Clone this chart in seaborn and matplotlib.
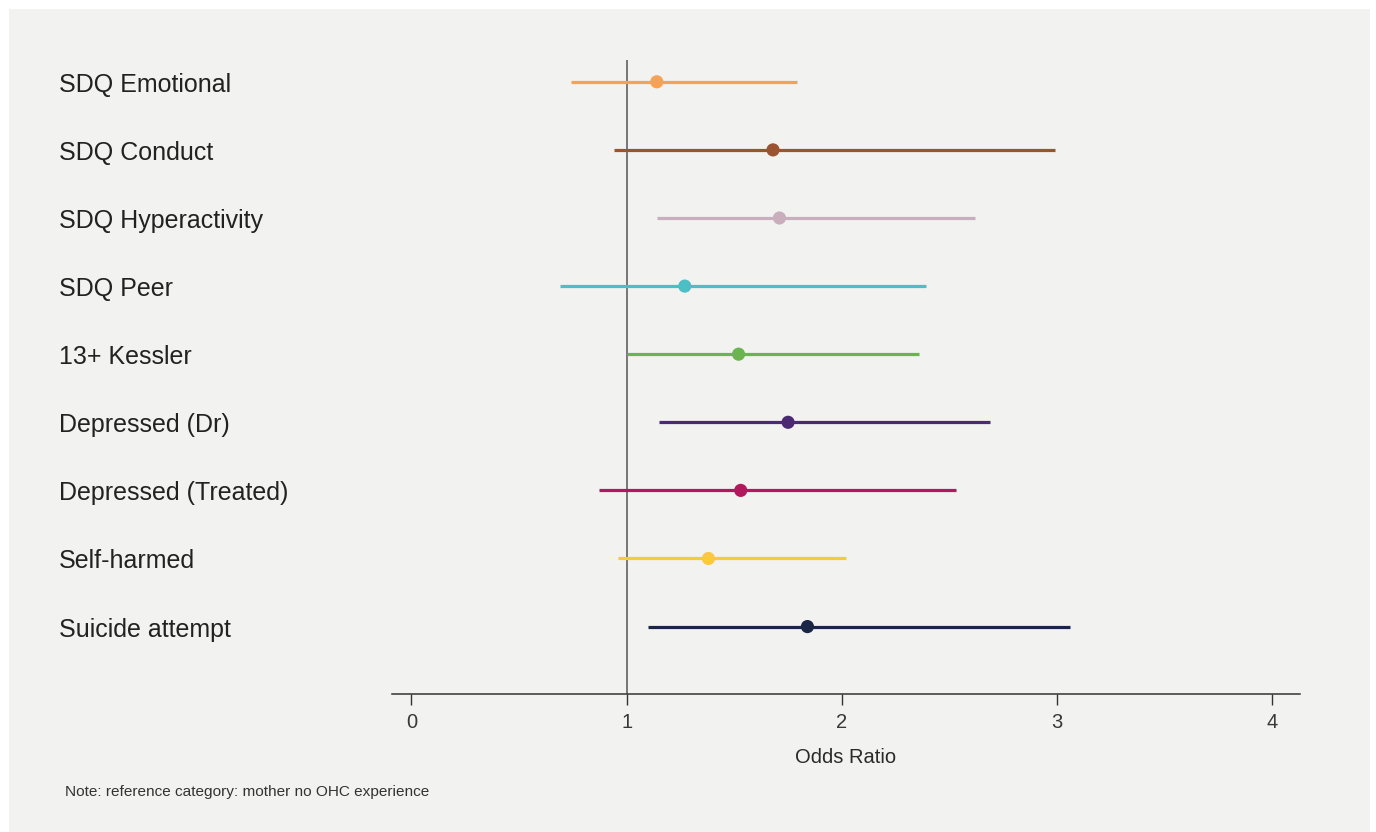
import matplotlib
matplotlib.use("Agg")
import matplotlib.pyplot as plt
import matplotlib.transforms as mtransforms
from matplotlib.patches import Rectangle
import pandas as pd
import seaborn as sns

# Outcomes, odds ratios and 95% confidence bounds
outcomes = ["SDQ Emotional", "SDQ Conduct", "SDQ Hyperactivity", "SDQ Peer",
            "13+ Kessler", "Depressed (Dr)", "Depressed (Treated)",
            "Self-harmed", "Suicide attempt"]
odds_ratio = [1.14, 1.68, 1.71, 1.27, 1.52, 1.75, 1.53, 1.38, 1.84]
ci_lower = [0.74, 0.94, 1.14, 0.69, 1.00, 1.15, 0.87, 0.96, 1.10]
ci_upper = [1.79, 2.99, 2.62, 2.39, 2.36, 2.69, 2.53, 2.02, 3.06]
colours = ["#F5A256", "#9B5330", "#C9AFBE", "#4BBFC3", "#6AB550",
           "#4B2A73", "#B3175E", "#FCC93A", "#1B2646"]
x_ticks = [0, 1, 2, 3, 4]
note_text = "Note: reference category: mother no OHC experience"

df = pd.DataFrame({"outcome": outcomes, "or": odds_ratio,
                   "lo": ci_lower, "hi": ci_upper})
df["row"] = range(len(df))

sns.set_theme(style="white")
plt.rcParams["font.family"] = ["Liberation Sans", "DejaVu Sans"]

W, H = 1376, 832
fig = plt.figure(figsize=(W / 100, H / 100), dpi=100, facecolor="white")
panel = "#f2f2f0"
fig.patches.append(Rectangle((9 / W, 0), (1370 - 9) / W, (H - 9) / H,
                             transform=fig.transFigure, facecolor=panel,
                             edgecolor="none", zorder=-10))

ax = fig.add_axes([392 / W, (H - 694) / H, (1300 - 392) / W, (694 - 60) / H])
ax.set_facecolor("none")
ax.set_zorder(5)

# reference line at OR = 1
ax.axvline(1, color="#555555", lw=1.1, zorder=1)

# confidence intervals
ax.hlines(df["row"], df["lo"], df["hi"], colors=colours, lw=2.3, zorder=2)

# point estimates
sns.scatterplot(data=df, x="or", y="row", hue="outcome", palette=colours,
                s=90, linewidth=0, legend=False, ax=ax, zorder=3)

ax.set_xlim(-0.0906, 4.129)
ax.set_ylim(8.99, -0.32)
ax.set_xticks(x_ticks)
ax.set_xticklabels([str(t) for t in x_ticks])
ax.set_yticks([])
ax.set_ylabel("")
ax.set_xlabel("Odds Ratio", fontsize=14.5, color="#2a2a2a", labelpad=11)
ax.tick_params(axis="x", direction="out", length=8, width=1,
               color="#333333", labelsize=14.5, labelcolor="#383838", pad=6,
               bottom=True)

for side in ["top", "right", "left"]:
    ax.spines[side].set_visible(False)
ax.spines["bottom"].set_color("#333333")
ax.spines["bottom"].set_linewidth(1.1)

# category labels at the left edge of the panel, nudged slightly down
trans = mtransforms.blended_transform_factory(fig.transFigure, ax.transData)
trans = trans + mtransforms.ScaledTranslation(0, -3 / 100, fig.dpi_scale_trans)
for r, name in zip(df["row"], df["outcome"]):
    ax.text(59 / W, r, name, transform=trans, ha="left", va="center",
            fontsize=18, color="#222222", clip_on=False)

fig.text(65 / W, 1 - 792 / H, note_text, ha="left", va="center",
         fontsize=11.1, color="#333333")

fig.savefig("out.png", dpi=100, facecolor="white")
